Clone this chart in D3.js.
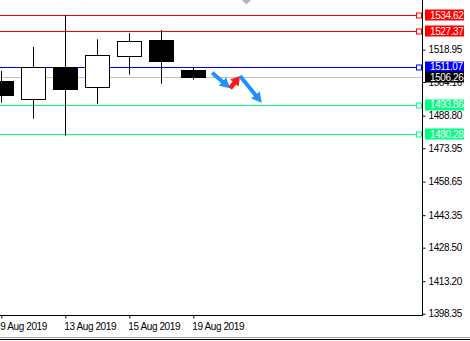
<!DOCTYPE html>
<html><head><meta charset="utf-8">
<script src="https://cdn.jsdelivr.net/npm/d3@7"></script>
<style>
html,body{margin:0;padding:0;background:#fff;}
svg{display:block;font-family:"Liberation Sans",Arial,sans-serif;font-size:10px;}
svg text{letter-spacing:-0.4px;}
</style></head>
<body><svg id="c" width="470" height="341"></svg>
<script>
// ---- data ----
const dates = ["9 Aug 2019","12 Aug 2019","13 Aug 2019","14 Aug 2019","15 Aug 2019","16 Aug 2019","19 Aug 2019"];
const opens  = [1504.62, 1496.26, 1510.88, 1501.74, 1515.90, 1523.34, 1509.64];
const highs  = [1509.18, 1520.15, 1534.62, 1523.66, 1526.54, 1527.91, 1510.90];
const lows   = [1494.71, 1487.41, 1479.64, 1494.25, 1507.50, 1503.39, 1505.21];
const closes = [1498.36, 1510.88, 1500.65, 1516.36, 1522.75, 1513.89, 1506.26];
const xTickIdx = [0, 2, 4, 6];
const yTicks = [1518.95, 1504.16, 1488.80, 1473.95, 1458.65, 1443.35, 1428.50, 1413.20, 1398.35];
const levels = [1534.62, 1527.37, 1511.07, 1493.86, 1480.28];
const levelKinds = ["resist","resist","pivot","support","support"];
const bidPrice = 1506.26;
// arrows
const arrowStartIdx   = [6.59, 7.15, 7.46];
const arrowStartPrice = [1508.41, 1501.29, 1506.90];
const arrowEndIdx     = [7.15, 7.46, 8.14];
const arrowEndPrice   = [1501.29, 1506.90, 1494.71];
const arrowKinds      = ["down","up","down"];
const shiftIdx = 7.66;

// ---- styles ----
const colorOf = {resist:"#FF0000", pivot:"#0000FF", support:"#00FF7F"};
const arrowColor = {down:"#1E90FF", up:"#FF1A1A"};

const svg = d3.select("#c");
const axisX = 422.5, axisY = 315.5;
const x = d3.scaleLinear().domain([0, 1]).range([1.3, 33.3]);
const y = d3.scaleLinear().domain([1398.35, 1534.62]).range([313.7, 15.3]);
const r = v => Math.round(v) + 0.5;

// bid line
svg.append("line").attr("x1",0).attr("x2",axisX).attr("y1",r(y(bidPrice))).attr("y2",r(y(bidPrice)))
  .attr("stroke","#C0C0C0").attr("stroke-width",1);

// level lines
levels.forEach((v,i)=>{
  const yy = r(y(v));
  svg.append("line").attr("x1",0).attr("x2",417).attr("y1",yy).attr("y2",yy)
    .attr("stroke",colorOf[levelKinds[i]]).attr("stroke-width",1);
  svg.append("rect").attr("x",416.5).attr("y",yy-2.5).attr("width",5).attr("height",5)
    .attr("fill","#fff").attr("stroke",colorOf[levelKinds[i]]).attr("stroke-width",1);
});

// candles
const bw = 24;
dates.forEach((d,i)=>{
  const cx = Math.round(x(i)) + 0.5;
  svg.append("line").attr("x1",cx).attr("x2",cx).attr("y1",y(highs[i])).attr("y2",y(lows[i]))
    .attr("stroke","#000").attr("stroke-width",1);
  const top = y(Math.max(opens[i],closes[i])), bot = y(Math.min(opens[i],closes[i]));
  const up = closes[i] >= opens[i];
  svg.append("rect").attr("x",cx-bw/2).attr("y",Math.round(top)+0.5).attr("width",bw)
    .attr("height",Math.max(1,Math.round(bot-top)))
    .attr("fill",up?"#fff":"#000").attr("stroke","#000").attr("stroke-width",1);
});

// arrows
function arrowPoly(x1,y1,x2,y2,w,hl,hw){
  const dx=x2-x1, dy=y2-y1, L=Math.hypot(dx,dy);
  const ux=dx/L, uy=dy/L, px=-uy, py=ux;
  const bx=x2-ux*hl, by=y2-uy*hl;
  return [[x1+px*w/2,y1+py*w/2],[bx+px*w/2,by+py*w/2],[bx+px*hw/2,by+py*hw/2],[x2,y2],
          [bx-px*hw/2,by-py*hw/2],[bx-px*w/2,by-py*w/2],[x1-px*w/2,y1-py*w/2]];
}
arrowKinds.forEach((k,i)=>{
  const x1=x(arrowStartIdx[i]), y1=y(arrowStartPrice[i]), x2=x(arrowEndIdx[i]), y2=y(arrowEndPrice[i]);
  const pts = k==="up" ? arrowPoly(x1,y1,x2,y2,4.5,9,11) : arrowPoly(x1,y1,x2,y2,4,10,11);
  svg.append("polygon").attr("points",pts.map(p=>p.join(",")).join(" ")).attr("fill",arrowColor[k]);
});

// shift marker
const sx = x(shiftIdx);
svg.append("polygon").attr("points",`${sx-4.5},0 ${sx+4.5},0 ${sx},4.5`).attr("fill","#B4B4B4");

// axes lines
svg.append("line").attr("x1",axisX).attr("x2",axisX).attr("y1",0).attr("y2",axisY+0.5).attr("stroke","#000");
svg.append("line").attr("x1",0).attr("x2",axisX).attr("y1",axisY).attr("y2",axisY).attr("stroke","#000");

// right axis
const ya = svg.append("g").attr("transform",`translate(${axisX},0)`)
  .call(d3.axisRight(y).tickValues(yTicks).tickSize(3).tickPadding(3).tickFormat(d3.format(".2f")));
ya.select(".domain").remove();
ya.attr("font-family",null).attr("font-size",null);
ya.selectAll("text").attr("fill","#000");

// bottom axis
const xa = svg.append("g").attr("transform",`translate(0,${axisY})`)
  .call(d3.axisBottom(x).tickValues(xTickIdx).tickSize(3).tickFormat(i=>dates[i]));
xa.select(".domain").remove();
xa.attr("font-family",null).attr("font-size",null);
xa.selectAll("text").attr("text-anchor","start").attr("x",-1.5).attr("y",7).attr("dy","0.71em").attr("fill","#000");

// price labels
function priceLabel(v, bg){
  const yy = y(v);
  svg.append("rect").attr("x",425).attr("y",Math.round(yy)-5.5).attr("width",39).attr("height",11).attr("fill",bg);
  svg.append("text").attr("x",430).attr("y",yy).attr("dy","0.36em").attr("fill","#fff").text(d3.format(".2f")(v));
}
levels.forEach((v,i)=>priceLabel(v, colorOf[levelKinds[i]]));
priceLabel(bidPrice, "#000");

// bottom frame
svg.append("line").attr("x1",0).attr("x2",470).attr("y1",337.5).attr("y2",337.5).attr("stroke","#A0A0A0");
svg.append("line").attr("x1",0).attr("x2",470).attr("y1",339.5).attr("y2",339.5).attr("stroke","#000");
</script></body></html>
